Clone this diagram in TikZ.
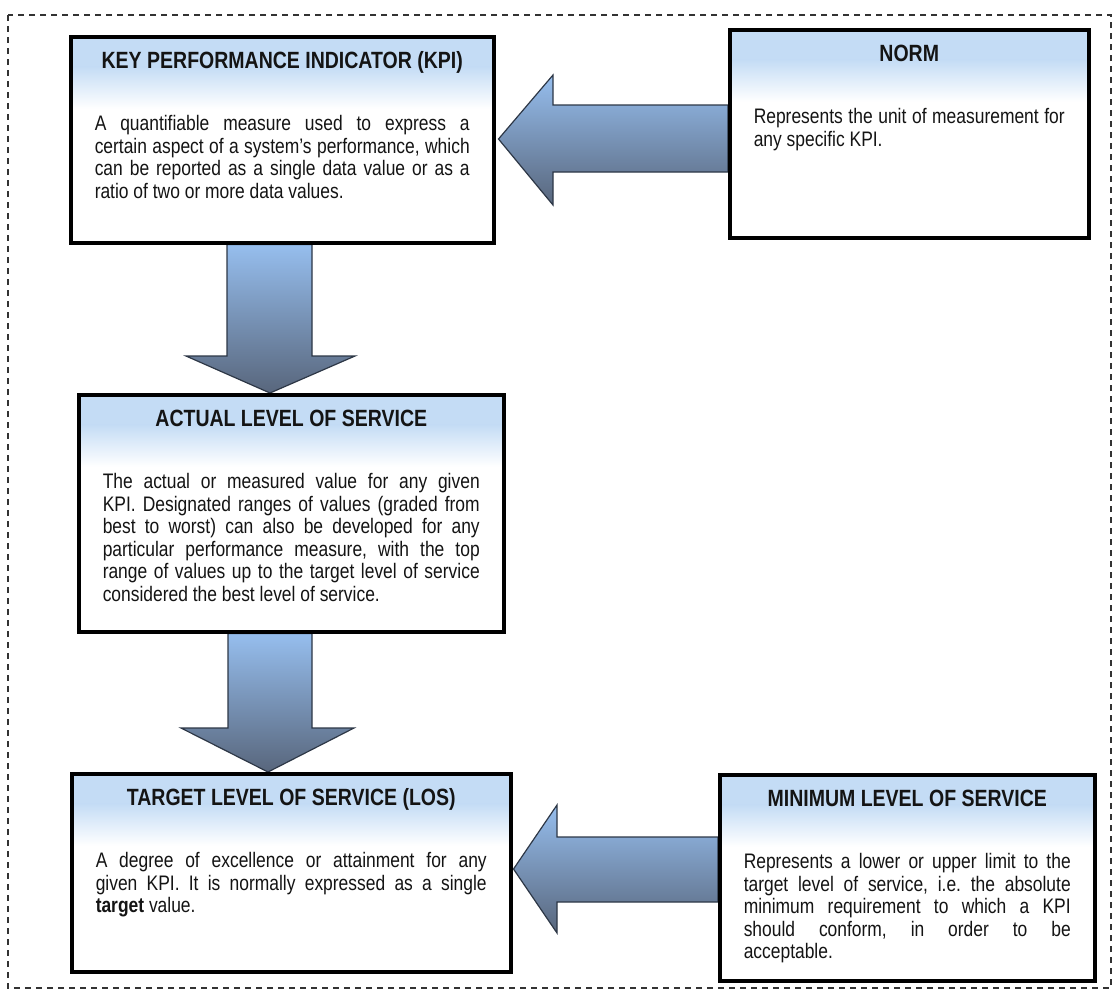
\documentclass[tikz,border=0pt]{standalone}
\usepackage{fontspec}
\setmainfont{Liberation Sans}[FakeStretch=0.83]
\usetikzlibrary{backgrounds}
\definecolor{bandblue}{RGB}{196,220,245}
\definecolor{arrowtop}{RGB}{150,190,238}
\definecolor{arrowbot}{RGB}{88,102,124}
\definecolor{arrowline}{RGB}{45,55,70}
\definecolor{inkgray}{RGB}{20,20,20}
\tolerance=10000
\hbadness=10000
\hyphenpenalty=10000
\frenchspacing

\begin{document}
\begin{tikzpicture}[x=1pt,y=-1pt]
    \tikzstyle{box}=[rectangle,draw=black,line width=3.5pt,fill=white,inner sep=0pt,anchor=north west,
        path picture={
            \fill[bandblue] (path picture bounding box.north west) rectangle ([yshift=-38pt]path picture bounding box.north east);
            \shade[top color=bandblue,bottom color=white] ([yshift=-30pt]path picture bounding box.north west)
                rectangle ([yshift=-72pt]path picture bounding box.north east);}]
    \tikzstyle{head}=[font=\bfseries\fontsize{23.5}{27}\selectfont,text=inkgray,inner sep=0pt,anchor=base]
    \tikzstyle{body}=[font=\fontsize{21}{22.5}\selectfont,text=inkgray,align=justify,inner sep=0pt,anchor=north]
    \tikzstyle{blockarrow}=[top color=arrowtop,bottom color=arrowbot,draw=arrowline,line width=1.2pt]

    \useasboundingbox (0,0) rectangle (1116,997);
    \draw[gray!40!black,line width=1.2pt,dash pattern=on 6pt off 5pt] (8,15) rectangle (1111,988);

    % boxes
    \node[box,minimum width=423pt,minimum height=206pt] (kpi)    at (69,35)  {};
    \node[box,minimum width=359pt,minimum height=208pt] (norm)   at (728,28) {};
    \node[box,minimum width=425pt,minimum height=237pt] (actual) at (77,393) {};
    \node[box,minimum width=439pt,minimum height=198pt] (target) at (70,772) {};
    \node[box,minimum width=375pt,minimum height=206pt] (minlos) at (718,773) {};

    % titles
    \node[head] (kpihead)    at ([yshift=-33pt]kpi.north)    {KEY PERFORMANCE INDICATOR (KPI)};
    \node[head] (normhead)   at ([yshift=-33pt]norm.north)   {NORM};
    \node[head] (actualhead) at ([yshift=-33pt]actual.north) {ACTUAL LEVEL OF SERVICE};
    \node[head] (targethead) at ([yshift=-33pt]target.north) {TARGET LEVEL OF SERVICE (LOS)};
    \node[head] (minloshead) at ([yshift=-33pt]minlos.north) {MINIMUM LEVEL OF SERVICE};

    % texts
    \node[body,text width=375pt] (kpitext) at ([yshift=-80pt]kpi.north)
        {\strut A quantifiable measure used to express a\linebreak
        certain aspect of a system’s performance, which\linebreak
        can be reported as a single data value or as a\linebreak
        ratio of two or more data values.};
    \node[body,text width=311pt] (normtext) at ([yshift=-80pt]norm.north)
        {\strut Represents the unit of measurement for\linebreak
        any specific KPI.};
    \node[body,text width=377pt] (actualtext) at ([yshift=-80pt]actual.north)
        {\strut The actual or measured value for any given\linebreak
        KPI. Designated ranges of values (graded from\linebreak
        best to worst) can also be developed for any\linebreak
        particular performance measure, with the top\linebreak
        range of values up to the target level of service\linebreak
        considered the best level of service.};
    \node[body,text width=391pt] (targettext) at ([yshift=-80pt]target.north)
        {\strut A degree of excellence or attainment for any\linebreak
        given KPI. It is normally expressed as a single\linebreak
        \textbf{target} value.};
    \node[body,text width=327pt] (minlostext) at ([yshift=-80pt]minlos.north)
        {\strut Represents a lower or upper limit to the\linebreak
        target level of service, i.e. the absolute\linebreak
        minimum requirement to which a KPI\linebreak
        should conform, in order to be\linebreak
        acceptable.};

    % block arrows
    \begin{scope}[on background layer]
        \path[blockarrow] (norm.west |- 0,105) -- (553,105) -- (553,75) -- ([xshift=3pt]kpi.east |- 0,139)
            -- (553,205) -- (553,172) -- (norm.west |- 0,172) -- cycle;
        \path[blockarrow] (227,0 |- kpi.south) -- (227,356) -- (186,356) -- (270,0 |- actual.north)
            -- (355,356) -- (312,356) -- (312,0 |- kpi.south) -- cycle;
        \path[blockarrow] (228,0 |- actual.south) -- (228,728) -- (181,728) -- (268,0 |- target.north)
            -- (354,728) -- (312,728) -- (312,0 |- actual.south) -- cycle;
        \path[blockarrow] (minlos.west |- 0,837) -- (557,837) -- (557,805) -- ([xshift=1pt]target.east |- 0,869)
            -- (557,933) -- (557,902) -- (minlos.west |- 0,902) -- cycle;
    \end{scope}
\end{tikzpicture}
\end{document}
